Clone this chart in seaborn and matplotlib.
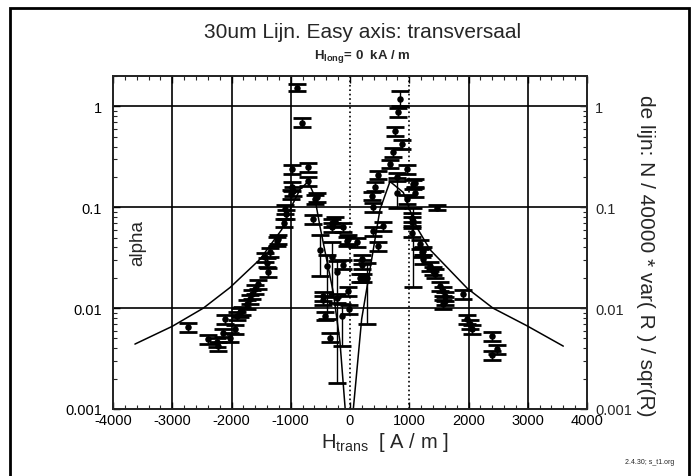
import numpy as np
import pandas as pd
import matplotlib
matplotlib.use("Agg")
import matplotlib.pyplot as plt
import seaborn as sns
from matplotlib.ticker import FixedLocator, FixedFormatter, LogLocator, NullFormatter, MultipleLocator
from matplotlib.patches import Rectangle

# ---------------- data ----------------
# measured points: field H_trans [A/m], alpha, relative error down / up
H_pts = [-2731, -2393, -2250, -2224, -2139, -2111, -2025, -1941, -1913, -1857,
         -1830, -1744, -1688, -1660, -1604, -1548, -1435, -1407, -1380, -1350,
         -1238, -1210, -1110, -1097, -1080, -1000, -985, -985, -970, -900,
         -816, -705, -704, -619, -591, -563, -506, -450, -450, -422,
         -394, -338, -309, -309, -309, -253, -225, -225, -141, -113,
         -113, -56, -28, -28, -17, 113, 169, 197, 197, 225,
         281, 366, 394, 394, 422, 478, 478, 563, 675, 732,
         760, 788, 788, 816, 844, 872, 957, 957, 1041, 1041,
         1041, 1069, 1069, 1097, 1097, 1182, 1210, 1238, 1238, 1350,
         1407, 1435, 1463, 1519, 1576, 1576, 1604, 1604, 1913, 1969,
         2025, 2055, 2392, 2476, 2392]
alpha_pts = [0.0065, 0.0049, 0.0046, 0.0042, 0.0057, 0.0078, 0.0051, 0.0062, 0.0084, 0.0091,
             0.0094, 0.011, 0.0123, 0.0137, 0.0155, 0.0173, 0.0318, 0.0283, 0.0226, 0.036,
             0.046, 0.048, 0.070, 0.095, 0.085, 0.135, 0.24, 0.16, 0.145, 1.53,
             0.69, 0.18, 0.25, 0.076, 0.12, 0.125, 0.038, 0.0132, 0.012, 0.0084,
             0.026, 0.0051, 0.070, 0.063, 0.032, 0.073, 0.0226, 0.0125, 0.0084, 0.063,
             0.027, 0.046, 0.048, 0.0148, 0.0098, 0.045, 0.020, 0.0305, 0.027, 0.020,
             0.020, 0.13, 0.058, 0.10, 0.16, 0.21, 0.041, 0.065, 0.27, 0.35,
             0.57, 0.20, 0.14, 0.87, 1.19, 0.42, 0.24, 0.12, 0.079, 0.072,
             0.056, 0.17, 0.073, 0.175, 0.14, 0.043, 0.0356, 0.0305, 0.037, 0.026,
             0.0234, 0.022, 0.099, 0.0166, 0.0148, 0.011, 0.0132, 0.0118, 0.0137, 0.0078,
             0.0069, 0.0062, 0.0053, 0.0039, 0.0034]
err_down = [0.10, 0.10, 0.10, 0.10, 0.10, 0.10, 0.10, 0.10, 0.10, 0.10,
            0.10, 0.10, 0.10, 0.10, 0.10, 0.10, 0.10, 0.10, 0.10, 0.10,
            0.10, 0.10, 0.10, 0.10, 0.10, 0.10, 0.10, 0.10, 0.10, 0.08,
            0.10, 0.10, 0.10, 0.10, 0.10, 0.10, 0.45, 0.10, 0.10, 0.10,
            0.70, 0.10, 0.10, 0.10, 0.60, 0.10, 0.92, 0.10, 0.50, 0.10,
            0.10, 0.10, 0.10, 0.10, 0.10, 0.10, 0.10, 0.10, 0.10, 0.10,
            0.65, 0.10, 0.10, 0.10, 0.10, 0.10, 0.10, 0.10, 0.10, 0.10,
            0.10, 0.10, 0.30, 0.10, 0.16, 0.10, 0.10, 0.10, 0.10, 0.10,
            0.10, 0.10, 0.78, 0.10, 0.10, 0.10, 0.10, 0.10, 0.10, 0.10,
            0.10, 0.10, 0.06, 0.10, 0.10, 0.10, 0.10, 0.10, 0.10, 0.10,
            0.10, 0.10, 0.10, 0.10, 0.10]
err_up = [0.10, 0.10, 0.10, 0.10, 0.10, 0.10, 0.10, 0.10, 0.10, 0.10,
          0.10, 0.10, 0.10, 0.10, 0.10, 0.10, 0.10, 0.10, 0.10, 0.10,
          0.10, 0.10, 0.10, 0.10, 0.10, 0.10, 0.10, 0.10, 0.10, 0.08,
          0.10, 0.10, 0.10, 0.10, 0.10, 0.10, 0.40, 0.10, 0.10, 0.10,
          0.30, 0.10, 0.10, 0.10, 0.40, 0.10, 0.30, 0.10, 0.30, 0.10,
          0.10, 0.10, 0.10, 0.10, 0.10, 0.10, 0.10, 0.10, 0.10, 0.10,
          0.40, 0.10, 0.10, 0.10, 0.10, 0.10, 0.10, 0.10, 0.10, 0.10,
          0.10, 0.10, 0.40, 0.10, 0.18, 0.10, 0.10, 0.10, 0.10, 0.10,
          0.10, 0.10, 0.35, 0.10, 0.10, 0.10, 0.10, 0.10, 0.10, 0.10,
          0.10, 0.10, 0.06, 0.10, 0.10, 0.10, 0.10, 0.10, 0.10, 0.10,
          0.10, 0.10, 0.10, 0.10, 0.10]

# model curve "de lijn"
H_line = [-3630, -3000, -2475, -2025, -1519, -1153, -1013, -844, -705, -600,
          -508, -282, -169, -84, -30, 0, 30, 56, 197, 366,
          506, 675, 900, 1069, 1150, 1350, 1980, 2413, 2983, 3600]
alpha_line = [0.0044, 0.0066, 0.0100, 0.016, 0.0305, 0.060, 0.095, 0.15, 0.18, 0.13,
              0.065, 0.0143, 0.0046, 0.00105, 0.0004, 0.0002, 0.0004, 0.001, 0.0078, 0.0305,
              0.095, 0.18, 0.14, 0.076, 0.060, 0.038, 0.0157, 0.010, 0.0067, 0.0042]

x_ticks = [-4000, -3000, -2000, -1000, 0, 1000, 2000, 3000, 4000]
x_ticklabels = ["-4000", "-3000", "-2000", "-1000", "0", "1000", "2000", "3000", "4000"]
y_ticks = [0.001, 0.01, 0.1, 1]
y_ticklabels = ["0.001", "0.01", "0.1", "1"]

# ---------------- style ----------------
sns.set_theme(style="white")
plt.rcParams["font.family"] = ["Liberation Sans", "DejaVu Sans"]
plt.rcParams["mathtext.fontset"] = "custom"
plt.rcParams["mathtext.rm"] = "Liberation Sans"
plt.rcParams["mathtext.it"] = "Liberation Sans"
plt.rcParams["mathtext.bf"] = "Liberation Sans:bold"

fig = plt.figure(figsize=(6.96, 4.77), dpi=100)
fig.patch.set_facecolor("white")
W, Hh = 696.0, 477.0
ax = fig.add_axes([113 / W, 1 - 410 / Hh, (587 - 113) / W, (410 - 77) / Hh])
ax.set_facecolor("white")

ax.set_xlim(-4000, 4000)
ax.set_yscale("log")
ax.set_ylim(0.001, 2)

# grid lines
for xv in x_ticks[1:-1]:
    ls = ":" if xv in (0, 1000) else "-"
    ax.axvline(xv, color="black", lw=1.2, ls=ls, zorder=1)
for yv in [0.01, 0.1, 1]:
    ax.axhline(yv, color="black", lw=1.2, zorder=1)

# model curve
df_line = pd.DataFrame({"H": H_line, "alpha": alpha_line})
sns.lineplot(data=df_line, x="H", y="alpha", ax=ax, color="black", lw=1.1,
             sort=False, estimator=None, zorder=3)

# data points with error bars
df = pd.DataFrame({"H": H_pts, "alpha": alpha_pts, "dn": err_down, "up": err_up})
yerr = np.vstack([df["alpha"] * df["dn"], df["alpha"] * df["up"]])
ax.errorbar(df["H"], df["alpha"], yerr=yerr, fmt="none", ecolor="black",
            elinewidth=1.0, capsize=6.5, capthick=2.0, zorder=4)
sns.scatterplot(data=df, x="H", y="alpha", ax=ax, color="black", s=22,
                edgecolor="black", linewidth=0, zorder=5, legend=False)

# ticks
ax.xaxis.set_major_locator(FixedLocator(x_ticks))
ax.xaxis.set_major_formatter(FixedFormatter(x_ticklabels))
ax.xaxis.set_minor_locator(MultipleLocator(200))
ax.yaxis.set_major_locator(FixedLocator(y_ticks))
ax.yaxis.set_major_formatter(FixedFormatter(y_ticklabels))
ax.yaxis.set_minor_locator(LogLocator(base=10, subs=np.arange(2, 10)))
ax.yaxis.set_minor_formatter(NullFormatter())
ax.tick_params(axis="both", which="major", direction="in", length=5, width=1,
               top=True, bottom=True, left=True, right=False, labelsize=10.5, colors="black")
ax.tick_params(axis="both", which="minor", direction="in", length=3, width=0.8,
               top=True, bottom=True, left=True, right=False)
ax.tick_params(axis="x", pad=3)
ax.tick_params(axis="y", pad=8)
ax.set_xlabel("")
ax.set_ylabel("")
for s in ax.spines.values():
    s.set_color("black")
    s.set_linewidth(1.2)

ax2 = ax.twinx()
ax2.set_yscale("log")
ax2.set_ylim(0.001, 2)
ax2.yaxis.set_major_locator(FixedLocator(y_ticks))
ax2.yaxis.set_major_formatter(FixedFormatter(y_ticklabels))
ax2.yaxis.set_minor_locator(LogLocator(base=10, subs=np.arange(2, 10)))
ax2.yaxis.set_minor_formatter(NullFormatter())
ax2.tick_params(axis="y", which="major", direction="in", length=5, width=1, labelsize=10.5, pad=6)
ax2.tick_params(axis="y", which="minor", direction="in", length=3, width=0.8)
ax2.set_ylabel("")
ax2.grid(False)

# texts
fig.text(363 / W, 1 - 33 / Hh, "30um Lijn. Easy axis: transversaal", ha="center", va="center",
         fontsize=15)
fig.text(362 / W, 1 - 57 / Hh, r"$\mathbf{H}_{\mathbf{long}}$= 0  kA / m", ha="center", va="center",
         fontsize=9.5, fontweight="bold")
fig.text(385 / W, 1 - 442 / Hh, r"H$_{\mathrm{trans}}$  [ A / m ]", ha="center", va="center",
         fontsize=14.5)
fig.text(138 / W, 1 - 243 / Hh, "alpha", ha="center", va="center", rotation=90, fontsize=13.5)
fig.text(645 / W, 1 - 256 / Hh, "de lijn: N / 40000 * var( R ) / sqr(R)", ha="center", va="center",
         rotation=270, fontsize=15)
fig.text(650 / W, 1 - 463 / Hh, "2.4.30; s_t1.org", ha="center", va="center", fontsize=5)

# outer frame
fig.patches.append(Rectangle((10 / W, -0.05), (689 - 10) / W, 1.05 - 9 / Hh,
                             transform=fig.transFigure, fill=False, edgecolor="black",
                             lw=2.0, zorder=0))

fig.savefig("out.png", dpi=100, facecolor="white")
